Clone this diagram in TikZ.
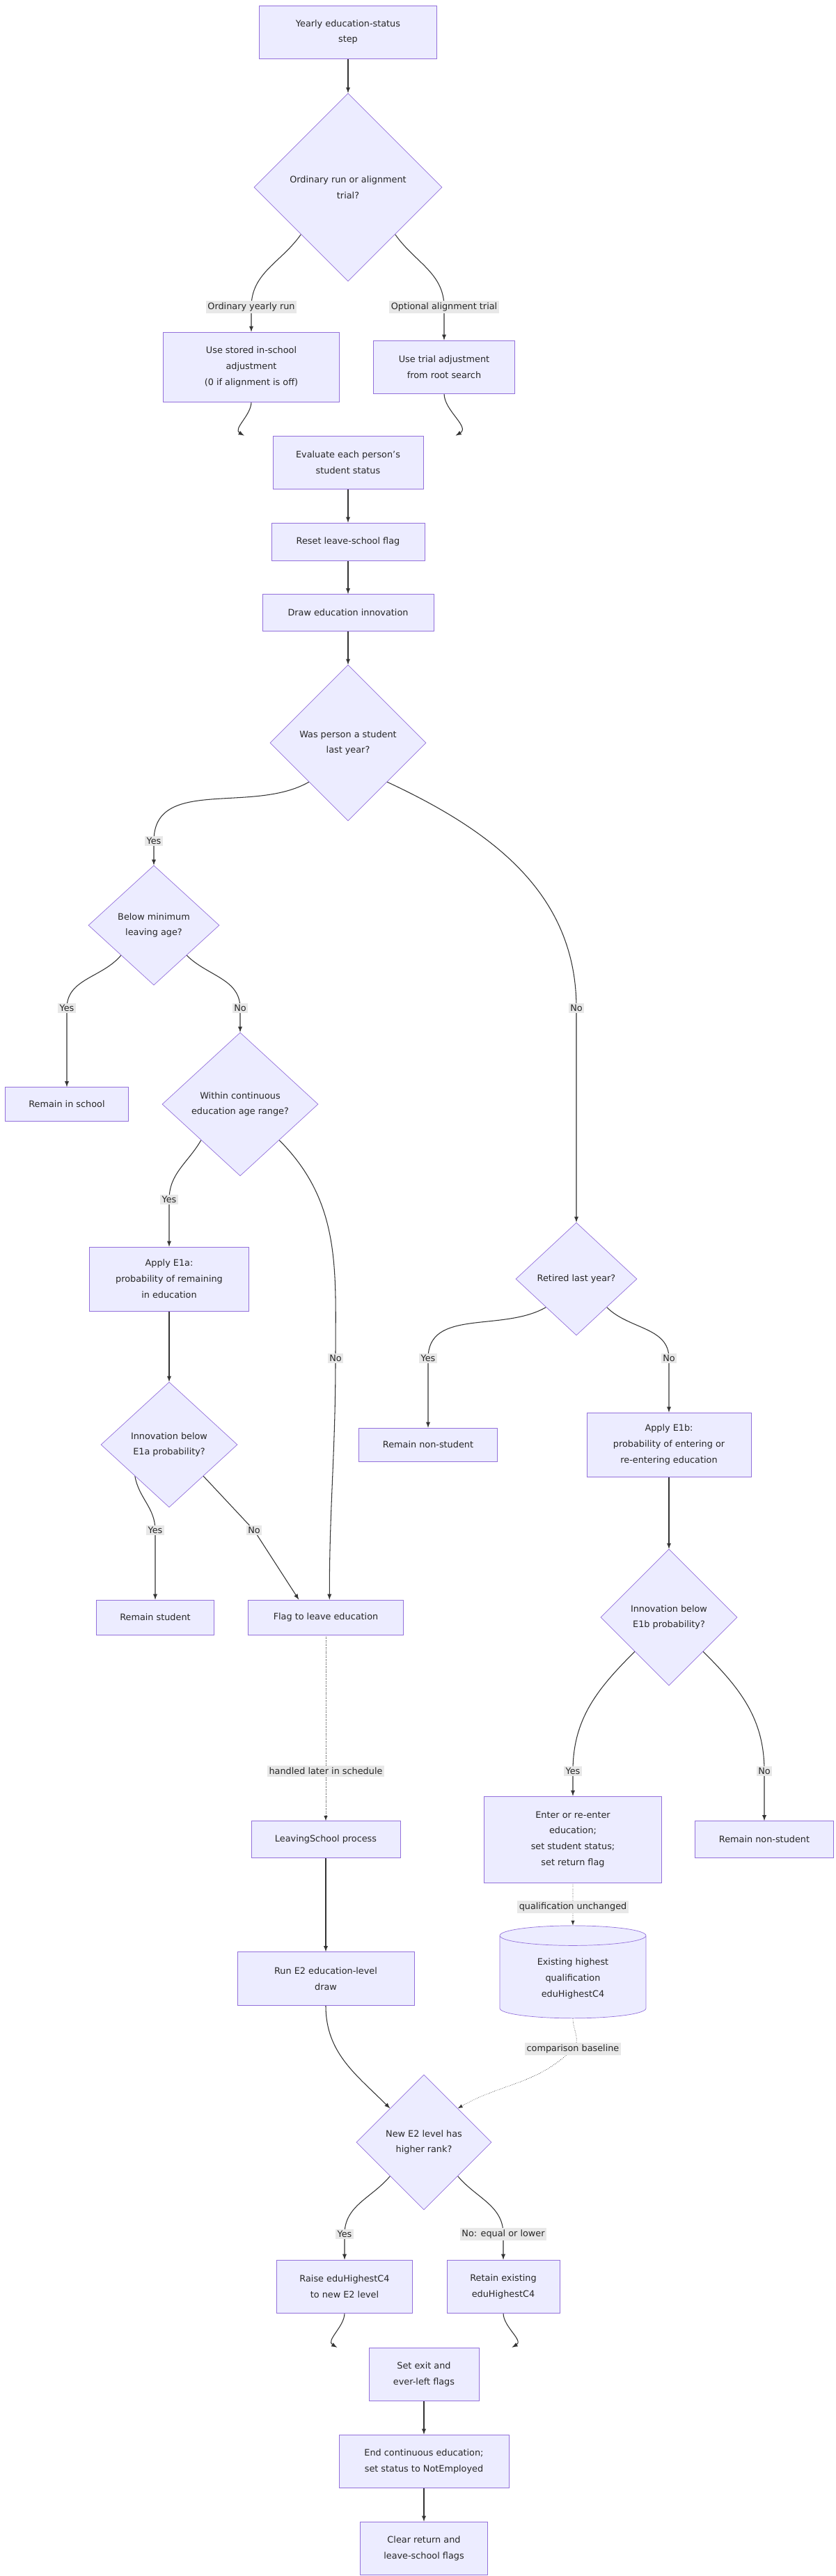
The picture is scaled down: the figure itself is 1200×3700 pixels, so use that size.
\documentclass[tikz,border=0pt]{standalone}
\usepackage{fontspec}
\setmainfont{DejaVu Sans}
\usetikzlibrary{shapes.geometric}
\pgfdeclarelayer{bg}
\pgfsetlayers{bg,main}
\definecolor{nodefill}{HTML}{ECECFF}
\definecolor{nodeline}{HTML}{9370DB}
\definecolor{lblfill}{HTML}{E8E8E8}
\definecolor{edgecol}{HTML}{333333}

\begin{document}
\begin{tikzpicture}[x=0.02cm, y=-0.02cm,
    every node/.style={font=\fontsize{7.3}{13}\selectfont, text=black!85, align=center},
    box/.style={draw=nodeline, fill=nodefill, rectangle, inner sep=2pt},
    decision/.style={draw=nodeline, fill=nodefill, diamond, inner sep=0pt},
    store/.style={draw=nodeline, fill=nodefill, cylinder, shape border rotate=90, aspect=0.25, minimum width=4.2cm, minimum height=2.66cm},
    lbl/.style={fill=lblfill, inner sep=1.5pt},
    arr/.style={-latex, draw=edgecol, semithick},
    dotarr/.style={-latex, draw=edgecol, densely dotted}]
        \useasboundingbox (0,0) rectangle (1200,3700);

        \node[box, minimum width=5.1cm, minimum height=1.52cm](start) at (500,46) {Yearly education-status\\step};
        \node[decision, minimum width=5.4cm, minimum height=5.4cm](mode) at (500,269) {Ordinary run or alignment\\trial?};
        \node[box, minimum width=5.06cm, minimum height=2cm](stored) at (361,527) {Use stored in-school\\adjustment\\(0 if alignment is off)};
        \node[box, minimum width=4.06cm, minimum height=1.52cm](trial) at (638,527) {Use trial adjustment\\from root search};
        \node[box, minimum width=4.32cm, minimum height=1.52cm](evaluate) at (500,664) {Evaluate each person's\\student status};
        \node[box, minimum width=4.4cm, minimum height=1.08cm](reset) at (500,778) {Reset leave-school flag};
        \node[box, minimum width=4.92cm, minimum height=1.06cm](innov) at (500,880) {Draw education innovation};
        \node[decision, minimum width=4.48cm, minimum height=4.48cm](wasstud) at (500,1067) {Was person a student\\last year?};

        \node[decision, minimum width=3.76cm, minimum height=3.44cm](minage) at (221,1329) {Below minimum\\leaving age?};
        \node[box, minimum width=3.54cm, minimum height=0.98cm](inschool) at (96,1586) {Remain in school};
        \node[decision, minimum width=4.48cm, minimum height=4.12cm](contrange) at (345,1586) {Within continuous\\education age range?};
        \node[box, minimum width=4.58cm, minimum height=1.84cm](eonea) at (243,1837) {Apply E1a:\\probability of remaining\\in education};
        \node[decision, minimum width=3.92cm, minimum height=3.6cm](belowa) at (243,2075) {Innovation below\\E1a probability?};
        \node[box, minimum width=3.38cm, minimum height=1cm](stays) at (223,2323) {Remain student};
        \node[box, minimum width=4.46cm, minimum height=1cm](leaveflag) at (468,2323) {Flag to leave education};

        \node[decision, minimum width=3.48cm, minimum height=3.24cm](retired) at (828,1837) {Retired last year?};
        \node[box, minimum width=3.98cm, minimum height=0.96cm](nonstudA) at (615,2075) {Remain non-student};
        \node[box, minimum width=4.72cm, minimum height=1.84cm](eoneb) at (961,2075) {Apply E1b:\\probability of entering or\\re-entering education};
        \node[decision, minimum width=3.92cm, minimum height=3.92cm](belowb) at (961,2323) {Innovation below\\E1b probability?};
        \node[box, minimum width=5.1cm, minimum height=2.48cm](reenter) at (823,2642) {Enter or re-enter\\education;\\set student status;\\set return flag};
        \node[box, minimum width=3.98cm, minimum height=1.06cm](nonstudB) at (1098,2642) {Remain non-student};
        \node[store](highest) at (823,2842) {Existing highest\\qualification\\eduHighestC4};

        \node[box, minimum width=4.28cm, minimum height=1.06cm](leaving) at (468,2642) {LeavingSchool process};
        \node[box, minimum width=5.08cm, minimum height=1.54cm](etwo) at (468,2842) {Run E2 education-level\\draw};
        \node[decision, minimum width=3.88cm, minimum height=3.88cm](rank) at (609,3077) {New E2 level has\\higher rank?};
        \node[box, minimum width=3.9cm, minimum height=1.52cm](raise) at (495,3284) {Raise eduHighestC4\\to new E2 level};
        \node[box, minimum width=3.24cm, minimum height=1.52cm](retain) at (723,3284) {Retain existing\\eduHighestC4};
        \node[box, minimum width=3.16cm, minimum height=1.52cm](exitflags) at (609,3410) {Set exit and\\ever-left flags};
        \node[box, minimum width=4.88cm, minimum height=1.52cm](endcont) at (609,3535) {End continuous education;\\set status to NotEmployed};
        \node[box, minimum width=3.66cm, minimum height=1.52cm](clearflags) at (609,3660) {Clear return and\\leave-school flags};

        % edge labels
        \node[lbl](lordinary) at (361,441) {Ordinary yearly run};
        \node[lbl](loptional) at (638,441) {Optional alignment trial};
        \node[lbl](lyesA) at (221,1208) {Yes};
        \node[lbl](lnoA) at (828,1448) {No};
        \node[lbl](lyesB) at (96,1448) {Yes};
        \node[lbl](lnoB) at (345,1448) {No};
        \node[lbl](lyesC) at (243,1723) {Yes};
        \node[lbl](lnoC) at (482,1951) {No};
        \node[lbl](lyesD) at (615,1951) {Yes};
        \node[lbl](lnoD) at (961,1951) {No};
        \node[lbl](lyesE) at (223,2198) {Yes};
        \node[lbl](lnoE) at (365,2198) {No};
        \node[lbl](lhandled) at (468,2544) {handled later in schedule};
        \node[lbl](lyesF) at (823,2544) {Yes};
        \node[lbl](lnoF) at (1098,2544) {No};
        \node[lbl](lunchanged) at (823,2739) {qualification unchanged};
        \node[lbl](lbaseline) at (823,2943) {comparison baseline};
        \node[lbl](lyesG) at (495,3209) {Yes};
        \node[lbl](lnoG) at (723,3209) {No: equal or lower};

        \begin{pgfonlayer}{bg}
        \draw[arr](start)--(mode);
        \draw[arr](mode.south west)to[out=-125,in=90](lordinary.center)--(stored.north);
        \draw[arr](mode.south east)to[out=-55,in=90](loptional.center)--(trial.north);
        \draw[arr](stored.south)to[out=-90,in=150]([xshift=-85]evaluate.north);
        \draw[arr](trial.south)to[out=-90,in=30]([xshift=88]evaluate.north);
        \draw[arr](evaluate)--(reset);
        \draw[arr](reset)--(innov);
        \draw[arr](innov)--(wasstud);
        \draw[arr](wasstud.south west)to[out=-150,in=90](lyesA.center)--(minage.north);
        \draw[arr](wasstud.south east)to[out=-25,in=90](lnoA.center)--(retired.north);
        \draw[arr](minage.south west)to[out=-130,in=90](lyesB.center)--(inschool.north);
        \draw[arr](minage.south east)to[out=-45,in=90](lnoB.center)--(contrange.north);
        \draw[arr](contrange.south west)to[out=-120,in=90](lyesC.center)--(eonea.north);
        \draw[arr](contrange.south east)to[out=-45,in=90](lnoC.center)to[out=-90,in=90]([xshift=3]leaveflag.north);
        \draw[arr](eonea)--(belowa);
        \draw[arr](belowa.south west)to[out=-80,in=90](lyesE.center)--(stays.north);
        \draw[arr](belowa.south east)--(lnoE.center)--([xshift=-22]leaveflag.north);
        \draw[arr](retired.south west)to[out=-150,in=90](lyesD.center)--(nonstudA.north);
        \draw[arr](retired.south east)to[out=-45,in=90](lnoD.center)--(eoneb.north);
        \draw[arr](eoneb)--(belowb);
        \draw[arr](belowb.south west)to[out=-135,in=90](lyesF.center)--(reenter.north);
        \draw[arr](belowb.south east)to[out=-45,in=90](lnoF.center)--(nonstudB.north);
        \draw[dotarr](leaveflag)--(lhandled.center)--(leaving);
        \draw[dotarr](reenter)--(lunchanged.center)--(highest.north);
        \draw[dotarr](highest.south)to[out=-90,in=45](lbaseline.center)to[out=-135,in=30](rank.north east);
        \draw[arr](leaving)--(etwo);
        \draw[arr](etwo.south)to[out=-90,in=135](rank.north west);
        \draw[arr](rank.south west)to[out=-130,in=90](lyesG.center)--(raise.north);
        \draw[arr](rank.south east)to[out=-50,in=90](lnoG.center)--(retain.north);
        \draw[arr](raise.south)to[out=-90,in=150]([xshift=-71]exitflags.north);
        \draw[arr](retain.south)to[out=-90,in=30]([xshift=72]exitflags.north);
        \draw[arr](exitflags)--(endcont);
        \draw[arr](endcont)--(clearflags);
        \end{pgfonlayer}
    \end{tikzpicture}
\end{document}
